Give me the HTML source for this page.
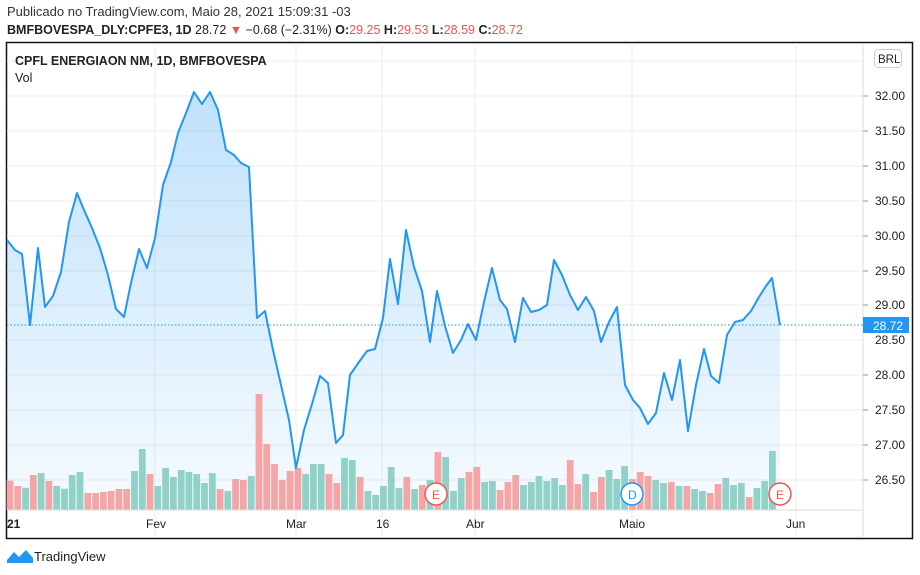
<!DOCTYPE html>
<html><head><meta charset="utf-8"><style>
html,body{margin:0;padding:0;background:#fff;width:920px;height:575px;overflow:hidden;font-family:"Liberation Sans",sans-serif;}
svg text{font-family:"Liberation Sans",sans-serif;}
</style></head><body>
<svg id="s" width="920" height="575" xmlns="http://www.w3.org/2000/svg">
<defs><linearGradient id="g" x1="0" y1="0" x2="0" y2="1"><stop offset="0" stop-color="#2196f3" stop-opacity="0.28"/><stop offset="1" stop-color="#2196f3" stop-opacity="0.04"/></linearGradient></defs>
<text x="7" y="16" font-size="13" fill="#333">Publicado no TradingView.com, Maio 28, 2021 15:09:31 -03</text>
<text x="7" y="34" font-size="12.5" fill="#222"><tspan font-weight="bold">BMFBOVESPA_DLY:CPFE3, 1D</tspan> 28.72 <tspan fill="#ef5350">▼</tspan> −0.68 (−2.31%) <tspan font-weight="bold">O:</tspan><tspan fill="#ef5350">29.25</tspan> <tspan font-weight="bold">H:</tspan><tspan fill="#ef5350">29.53</tspan> <tspan font-weight="bold">L:</tspan><tspan fill="#ef5350">28.59</tspan> <tspan font-weight="bold">C:</tspan><tspan fill="#ef5350">28.72</tspan></text>
<rect x="6.5" y="42.5" width="906" height="496" fill="#fff" stroke="#111" stroke-width="1.5"/>
<g stroke="#ececec" stroke-width="1">
<line x1="7" y1="61" x2="863" y2="61"/><line x1="7" y1="96" x2="863" y2="96"/><line x1="7" y1="131" x2="863" y2="131"/><line x1="7" y1="166" x2="863" y2="166"/><line x1="7" y1="201" x2="863" y2="201"/><line x1="7" y1="236" x2="863" y2="236"/><line x1="7" y1="271" x2="863" y2="271"/><line x1="7" y1="305" x2="863" y2="305"/><line x1="7" y1="340" x2="863" y2="340"/><line x1="7" y1="375" x2="863" y2="375"/><line x1="7" y1="410" x2="863" y2="410"/><line x1="7" y1="445" x2="863" y2="445"/><line x1="7" y1="480" x2="863" y2="480"/>
<line x1="155" y1="43" x2="155" y2="538"/><line x1="296" y1="43" x2="296" y2="538"/><line x1="382" y1="43" x2="382" y2="538"/><line x1="475" y1="43" x2="475" y2="538"/><line x1="632" y1="43" x2="632" y2="538"/><line x1="796" y1="43" x2="796" y2="538"/>
</g>
<path id="fill" fill="url(#g)" d=""/>
<g id="bars"></g>
<path id="ln" fill="none" stroke="#2196f3" stroke-width="2" stroke-linejoin="round" d=""/>
<line x1="7" y1="325" x2="863" y2="325" stroke="#2196f3" stroke-dasharray="1.5 2" stroke-width="1"/>
<line x1="7" y1="510" x2="863" y2="510" stroke="#ddd"/>
<line x1="863" y1="43" x2="863" y2="538" stroke="#ddd"/>
<g font-size="12" fill="#222">
<text x="875" y="100">32.00</text><text x="875" y="135">31.50</text><text x="875" y="170">31.00</text><text x="875" y="205">30.50</text><text x="875" y="240">30.00</text><text x="875" y="275">29.50</text><text x="875" y="309">29.00</text><text x="875" y="344">28.50</text><text x="875" y="379">28.00</text><text x="875" y="414">27.50</text><text x="875" y="449">27.00</text><text x="875" y="484">26.50</text>
</g>
<g stroke="#999"><line x1="863" y1="96" x2="868" y2="96"/><line x1="863" y1="131" x2="868" y2="131"/><line x1="863" y1="166" x2="868" y2="166"/><line x1="863" y1="201" x2="868" y2="201"/><line x1="863" y1="236" x2="868" y2="236"/><line x1="863" y1="271" x2="868" y2="271"/><line x1="863" y1="305" x2="868" y2="305"/><line x1="863" y1="375" x2="868" y2="375"/><line x1="863" y1="410" x2="868" y2="410"/><line x1="863" y1="445" x2="868" y2="445"/><line x1="863" y1="480" x2="868" y2="480"/></g>
<rect x="863" y="317" width="46" height="16" fill="#2196f3"/>
<text x="873" y="330" font-size="12" fill="#fff">28.72</text>
<rect x="874.5" y="49.5" width="27" height="18" rx="4" fill="#fff" stroke="#ccc"/>
<text x="878" y="63" font-size="11.5" fill="#222">BRL</text>
<text x="15" y="65" font-size="12.5" font-weight="bold" fill="#222">CPFL ENERGIAON NM, 1D, BMFBOVESPA</text>
<text x="15" y="82" font-size="12.5" fill="#222">Vol</text>
<g font-size="12" fill="#222">
<text x="7" y="528" font-weight="bold">21</text><text x="146" y="528">Fev</text><text x="286" y="528">Mar</text><text x="376" y="528">16</text><text x="466" y="528">Abr</text><text x="619" y="528">Maio</text><text x="786" y="528">Jun</text>
</g>
<g font-size="12">
<circle cx="436" cy="494" r="11" fill="#fff" stroke="#ef5350" stroke-width="1.5"/><text x="432" y="499" fill="#ef5350">E</text>
<circle cx="632" cy="494" r="11" fill="#fff" stroke="#2196f3" stroke-width="1.5"/><text x="628" y="499" fill="#2196f3">D</text>
<circle cx="780" cy="494" r="11" fill="#fff" stroke="#ef5350" stroke-width="1.5"/><text x="776" y="499" fill="#ef5350">E</text>
</g>
<g transform="translate(7,548)"><path d="M0 12 L7 4 L12 9 L19 2 L26 10 L26 15 L0 15 Z" fill="#2196f3"/></g>
<text x="34" y="561" font-size="13" fill="#222">TradingView</text>
</svg>
<script>
(function(){
var NS="http://www.w3.org/2000/svg";
var P=[[7,240],[15,250],[22,254],[30,325],[38,248],[45,307],[53,296],[61,272],[69,222],[77,193],[84,210],[92,228],[100,248],[108,275],[116,309],[124,317],[131,283],[139,249],[147,268],[155,238],[163,185],[171,162],[178,133],[186,113],[194,92],[202,104],[210,92],[218,110],[226,150],[234,155],[241,163],[249,167],[257,318],[265,311],[273,350],[281,385],[289,420],[296,468],[304,430],[312,404],[320,376],[328,383],[336,443],[343,435],[350,375],[359,362],[367,351],[375,349],[383,318],[390,259],[398,304],[406,230],[414,267],[422,291],[430,342],[437,291],[445,326],[453,353],[461,340],[468,324],[476,340],[484,302],[492,268],[500,300],[507,309],[515,342],[523,298],[531,312],[539,310],[547,305],[554,260],[562,275],[570,295],[578,310],[586,297],[594,311],[601,342],[609,322],[617,307],[625,385],[633,400],[640,408],[648,424],[656,413],[664,373],[672,400],[680,360],[688,431],[696,385],[704,349],[711,376],[719,383],[727,335],[735,322],[743,320],[751,311],[759,297],[766,286],[772,278],[780,325]];
var d="M"+P.map(function(p){return p[0]+" "+p[1];}).join(" L");
document.getElementById("ln").setAttribute("d",d);
document.getElementById("fill").setAttribute("d",d+" L780 510 L7 510 Z");
var T=[302,318,323,285,279,303,318,326,285,276,339,339,336,333,327,327,273,207,282,318,264,291,270,276,282,309,279,327,333,297,300,288,42,192,252,300,273,264,282,252,252,282,309,234,240,291,333,345,318,261,324,291,327,315,300,216,231,333,294,276,261,306,303,330,306,285,315,306,288,303,294,315,240,312,282,336,291,270,297,258,297,276,288,300,309,306,318,318,327,333,339,312,294,315,309,351,324,303,213];
var C="rrgrgrggggrrrrrrggrggggggggrgrrgrrrrrrgggrrggrgggggrgrgrgggrrggrrrggggggrrgrrgggrrrggrgrggrrgggrggg";
var g=document.getElementById("bars");
for(var i=0;i<T.length;i++){
var x=10+i*7.78, top=380+T[i]/3;
var r=document.createElementNS(NS,"rect");
r.setAttribute("x",(x-3.4).toFixed(1));
r.setAttribute("y",top.toFixed(1));
r.setAttribute("width","6.8");
r.setAttribute("height",(510-top).toFixed(1));
r.setAttribute("fill",C.charAt(i)=="g"?"#91d2c8":"#f4a6a6");
g.appendChild(r);
}
})();
</script>
</body></html>
